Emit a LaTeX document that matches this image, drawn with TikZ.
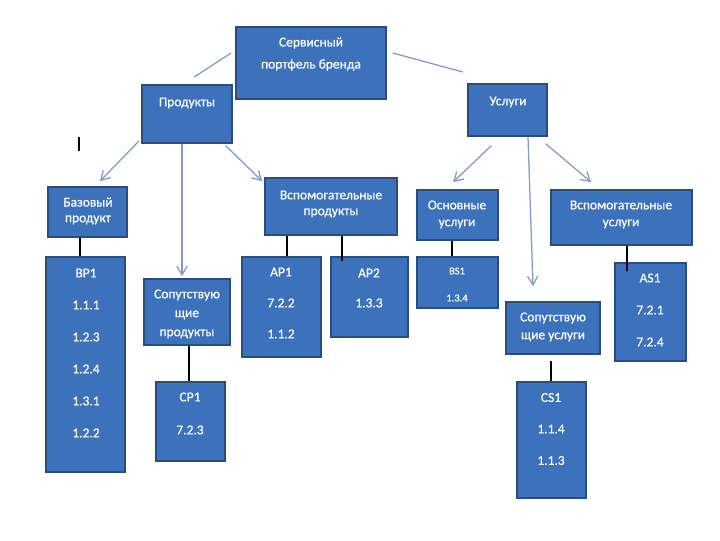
\documentclass[tikz,border=0pt]{standalone}
\usepackage{fontspec}
\setmainfont{Carlito}
\newfontfamily\boxfont{Carlito}[FakeBold=0.6]
\usepackage{xcolor}
\definecolor{boxBlue}{HTML}{3C71BC}
\definecolor{boxEdge}{HTML}{2A4C80}
\definecolor{linkBlue}{HTML}{7F9BCB}
\usepackage{tikz}
\usetikzlibrary{calc,fit,arrows.meta}

\begin{document}
\begin{tikzpicture}[x=0.025cm, y=-0.025cm,
  blk/.style={draw=boxEdge, line width=1.2pt, fill=boxBlue, inner sep=0pt},
  txt/.style={text=white, font=\boxfont\fontsize{9.6}{12}\selectfont, inner sep=0pt},
  small/.style={txt, font=\boxfont\fontsize{7.5}{9}\selectfont},
  link/.style={draw=linkBlue, line width=0.9pt, -{Straight Barb[length=2.2mm, width=2.6mm]}},
  tick/.style={draw=black, line width=1.1pt}]
  \useasboundingbox (0,0) rectangle (720,540);
  % the blocks, given by their corners (left,top) (right,bottom)
  \node[blk, fit={(236,27) (386,99)}] (top) {};
  \node[blk, fit={(142,85) (232,143)}] (prod) {};
  \node[blk, fit={(468,84) (547,136)}] (usl) {};
  \node[blk, fit={(48,187) (127,237)}] (base) {};
  \node[blk, fit={(265,178) (397,235)}] (vsp) {};
  \node[blk, fit={(417,190) (498,240)}] (osn) {};
  \node[blk, fit={(551,190) (692,245)}] (vsu) {};
  \node[blk, fit={(46,257) (125,472)}] (bp1) {};
  \node[blk, fit={(144,279) (230,345)}] (cop) {};
  \node[blk, fit={(156,382) (225,461)}] (cp1) {};
  \node[blk, fit={(242,257) (321,357)}] (ap1) {};
  \node[blk, fit={(331,257) (408,337)}] (ap2) {};
  \node[blk, fit={(417,257) (498,308)}] (bs1) {};
  \node[blk, fit={(506,302) (600,354)}] (cus) {};
  \node[blk, fit={(517,382) (586,498)}] (cs1) {};
  \node[blk, fit={(615,263) (686,361)}] (as1) {};
  % headings
  \node[txt] (top-a) at (311,43) {Сервисный};
  \node[txt] (top-b) at (311,65) {портфель бренда};
  \node[txt] (prod-a) at (187,103) {Продукты};
  \node[txt] (usl-a) at (508,102) {Услуги};
  \node[txt] (base-a) at (88,202) {Базовый};
  \node[txt] (base-b) at (88,220) {продукт};
  \node[txt] (vsp-a) at (331,195) {Вспомогательные};
  \node[txt] (vsp-b) at (331,213) {продукты};
  \node[txt] (osn-a) at (457,205) {Основные};
  \node[txt] (osn-b) at (457,224) {услуги};
  \node[txt] (vsu-a) at (621,205) {Вспомогательные};
  \node[txt] (vsu-b) at (621,224) {услуги};
  \node[txt] (cop-a) at (187,295) {Сопутствую};
  \node[txt] (cop-b) at (187,315) {щие};
  \node[txt] (cop-c) at (187,334) {продукты};
  \node[txt] (cus-a) at (553,318) {Сопутствую};
  \node[txt] (cus-b) at (553,337) {щие услуги};
  % code columns
  \foreach \t [count=\i] in {BP1,1.1.1,1.2.3,1.2.4,1.3.1,1.2.2}
    \node[txt] (bp1-\i) at (86,241+32*\i) {\t};
  \foreach \t [count=\i] in {AP1,7.2.2,1.1.2}
    \node[txt] (ap1-\i) at (281,241+31*\i) {\t};
  \foreach \t [count=\i] in {AP2,1.3.3}
    \node[txt] (ap2-\i) at (369,243+30*\i) {\t};
  \foreach \t [count=\i] in {CP1,7.2.3}
    \node[txt] (cp1-\i) at (190,364+33*\i) {\t};
  \foreach \t [count=\i] in {CS1,1.1.4,1.1.3}
    \node[txt] (cs1-\i) at (551,366+31.5*\i) {\t};
  \foreach \t [count=\i] in {AS1,7.2.1,7.2.4}
    \node[txt] (as1-\i) at (650,246+32*\i) {\t};
  \node[small] (bs1-1) at (457,271) {BS1};
  \node[small] (bs1-2) at (457,298) {1.3.4};
  % loose strokes by the top block
  \draw[draw=linkBlue, line width=0.9pt] ($(top.west)+(-41,14)$) -- ($(top.west)+(-4,-10)$);
  \draw[draw=linkBlue, line width=0.9pt] ($(top.east)+(6,-10)$) -- ($(top.east)+(76,9)$);
  \draw[black, line width=0.8pt] (79,137) -- (79,151);
  % arrows down from the two groups
  \draw[link] ($(prod.south west)+(-2,-3)$) -- ($(base.north)+(12.5,-5)$);
  \draw[link] ($(prod.south)+(-5,0)$) -- ($(cop.north)+(-5,-2)$);
  \draw[link] ($(prod.south east)+(-7,2)$) -- ($(vsp.north west)+(-2,4)$);
  \draw[link] ($(usl.south west)+(24,9)$) -- ($(osn.north)+(-4.5,-7)$);
  \draw[link] ($(usl.south)+(20.5,0)$) -- ($(cus.north)+(-20,-15)$);
  \draw[link] ($(usl.south east)+(-2,7)$) -- ($(vsu.north west)+(41,-7)$);
  % black ties to the code blocks
  \draw[tick] ($(base.south)+(-7.5,0)$) -- ($(bp1.north)+(-5.5,0)$);
  \draw[tick] ($(vsp.south)+(-44,0)$) -- ($(ap1.north)+(5.5,0)$);
  \draw[tick] ($(vsp.south)+(11,0)$) -- ($(ap2.north)+(-27.5,5)$);
  \draw[tick] ($(cop.south)+(2,0)$) -- ($(cp1.north)+(-1.5,0)$);
  \draw[tick] ($(osn.south)+(-5.5,0)$) -- ($(bs1.north)+(-5.5,0)$);
  \draw[tick] ($(vsu.south)+(5.5,0)$) -- ($(as1.north)+(-23.5,9)$);
  \draw[tick] ($(cus.south)+(-2,6)$) -- ($(cs1.north)+(-0.5,0)$);
\end{tikzpicture}
\end{document}
